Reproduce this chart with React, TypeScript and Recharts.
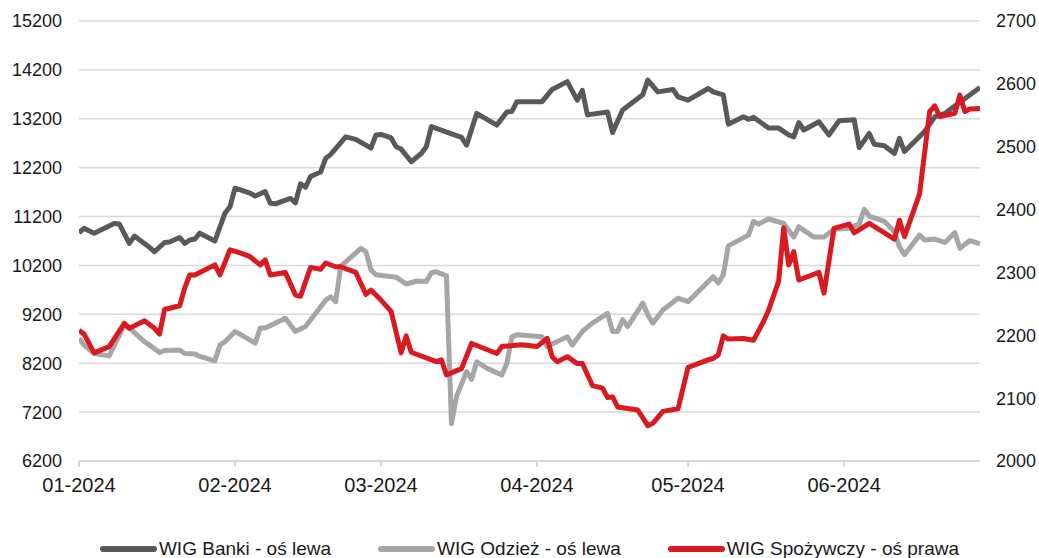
import React from 'react';
import { LineChart, Line, XAxis, YAxis, CartesianGrid } from 'recharts';

// days counted from 2024-01-01
const monthStartDays = [0, 31, 60, 91, 121, 152];
const monthLabels = ['01-2024', '02-2024', '03-2024', '04-2024', '05-2024', '06-2024'];

const leftTicks = [6200, 7200, 8200, 9200, 10200, 11200, 12200, 13200, 14200, 15200];
const rightTicks = [2000, 2100, 2200, 2300, 2400, 2500, 2600, 2700];

const bankiDays = [0, 1, 3, 7, 8, 10, 11, 14, 15, 17, 18, 20, 21, 22, 23, 24, 27, 29, 30, 31, 34, 35, 37, 38, 39, 42, 43, 44, 45, 46, 48, 49, 50, 53, 55, 58, 59, 60, 62, 63, 64, 66, 68, 69, 70, 76, 77, 79, 83, 85, 86, 87, 92, 94, 97, 99, 100, 101, 105, 106, 108, 112, 113, 115, 118, 119, 121, 125, 126, 128, 129, 132, 133, 134, 137, 139, 141, 142, 143, 144, 147, 149, 151, 154, 155, 157, 158, 160, 162, 163, 164, 168, 170, 172, 174, 179];
const bankiValues = [10870, 10960, 10860, 11060, 11050, 10650, 10800, 10570, 10480, 10670, 10680, 10770, 10650, 10720, 10740, 10860, 10700, 11270, 11400, 11780, 11680, 11620, 11710, 11470, 11460, 11570, 11480, 11870, 11800, 12020, 12110, 12390, 12470, 12830, 12780, 12600, 12870, 12880, 12810, 12630, 12580, 12320, 12490, 12630, 13040, 12820, 12660, 13310, 13070, 13340, 13350, 13550, 13550, 13800, 13960, 13580, 13780, 13280, 13340, 12920, 13380, 13690, 13990, 13750, 13800, 13650, 13580, 13820, 13750, 13690, 13090, 13240, 13190, 13230, 13010, 13010, 12870, 12830, 13120, 12970, 13140, 12870, 13160, 13180, 12610, 12900, 12680, 12650, 12490, 12800, 12530, 12940, 13240, 13310, 13460, 13840];

const odziezDays = [0, 1, 3, 6, 9, 10, 13, 14, 16, 17, 20, 21, 23, 24, 27, 28, 29, 31, 35, 36, 37, 41, 43, 45, 49, 50, 51, 52, 56, 57, 58, 59, 63, 65, 67, 69, 70, 71, 73, 74, 75, 77, 78, 79, 81, 84, 85, 86, 87, 92, 93, 97, 98, 100, 102, 105, 106, 107, 108, 109, 112, 113, 114, 116, 119, 121, 126, 127, 128, 129, 133, 134, 135, 137, 140, 142, 143, 146, 148, 150, 153, 155, 156, 157, 160, 162, 163, 164, 167, 168, 170, 172, 174, 175, 177, 179];
const odziezValues = [8710, 8570, 8400, 8350, 8980, 8920, 8640, 8570, 8420, 8460, 8470, 8400, 8390, 8340, 8250, 8570, 8640, 8850, 8610, 8920, 8920, 9120, 8850, 8950, 9490, 9560, 9460, 10180, 10550, 10480, 10110, 10010, 9960, 9820, 9880, 9870, 10050, 10070, 9990, 6960, 7520, 8030, 7870, 8230, 8100, 7960, 8200, 8740, 8780, 8740, 8540, 8740, 8570, 8850, 9020, 9220, 8850, 8850, 9090, 8950, 9430, 9190, 9020, 9290, 9530, 9460, 9970, 9840, 10010, 10600, 10820, 11100, 11050, 11150, 11060, 10780, 10990, 10780, 10780, 10940, 10960, 11050, 11350, 11210, 11100, 10890, 10580, 10420, 10820, 10720, 10740, 10670, 10870, 10550, 10710, 10640];

const spozywczyDays = [0, 1, 3, 6, 9, 10, 13, 15, 16, 17, 20, 21, 22, 23, 25, 27, 28, 30, 32, 34, 36, 37, 38, 41, 43, 44, 46, 48, 49, 51, 52, 55, 57, 58, 60, 62, 64, 65, 66, 71, 72, 73, 76, 78, 83, 84, 88, 91, 93, 94, 95, 97, 99, 100, 102, 104, 105, 106, 107, 111, 112, 113, 114, 116, 119, 121, 125, 126, 127, 128, 129, 132, 134, 136, 137, 139, 140, 141, 142, 143, 147, 148, 150, 153, 154, 157, 162, 163, 164, 167, 169, 170, 171, 174, 175, 176, 177, 179];
const spozywczyValues = [2208, 2202, 2172, 2182, 2219, 2211, 2223, 2211, 2202, 2241, 2247, 2275, 2296, 2296, 2304, 2312, 2296, 2336, 2331, 2325, 2312, 2320, 2296, 2300, 2264, 2262, 2308, 2305, 2315, 2309, 2309, 2300, 2265, 2272, 2256, 2238, 2172, 2199, 2173, 2158, 2161, 2137, 2147, 2187, 2171, 2182, 2185, 2182, 2195, 2166, 2158, 2166, 2155, 2155, 2120, 2116, 2101, 2102, 2086, 2081, 2069, 2056, 2060, 2079, 2083, 2149, 2161, 2163, 2169, 2199, 2194, 2195, 2192, 2222, 2240, 2286, 2371, 2312, 2333, 2288, 2300, 2267, 2370, 2377, 2363, 2378, 2353, 2383, 2357, 2425, 2556, 2565, 2548, 2553, 2582, 2556, 2560, 2561];

const toRows = (days: number[], values: number[]) => days.map((day, i) => ({ day, value: values[i] }));

const banki = toRows(bankiDays, bankiValues);
const odziez = toRows(odziezDays, odziezValues);
const spozywczy = toRows(spozywczyDays, spozywczyValues);

const FONT = '"Liberation Sans", Arial, sans-serif';
const GRID = '#d9d9d9';

const legendItems = [
  { label: 'WIG Banki - oś lewa', color: '#595959' },
  { label: 'WIG Odzież - oś lewa', color: '#a6a6a6' },
  { label: 'WIG Spożywczy - oś prawa', color: '#da1a21' },
];

const App: React.FC = () => {
  return (
    <div style={{ position: 'absolute', left: 0, top: 0, width: 1039, height: 558, background: '#fff', fontFamily: FONT }}>
      <LineChart width={1039} height={558} margin={{ top: 21, right: 0, left: 0, bottom: 57 }}>
        <CartesianGrid yAxisId="left" vertical={false} stroke={GRID} strokeWidth={1.5} />
        <XAxis
          type="number"
          dataKey="day"
          domain={[0, 179]}
          ticks={monthStartDays}
          tickFormatter={(v: number) => monthLabels[monthStartDays.indexOf(v)] ?? ''}
          allowDataOverflow
          height={40}
          stroke={GRID}
          strokeWidth={2}
          tickSize={6}
          tickMargin={11}
          tick={{ fill: '#1a1a1a', fontSize: 20, fontFamily: FONT }}
        />
        <YAxis
          yAxisId="left"
          domain={[6200, 15200]}
          ticks={leftTicks}
          width={79}
          axisLine={false}
          tickLine={false}
          tickSize={6}
          tickMargin={11}
          tick={{ fill: '#1a1a1a', fontSize: 18, fontFamily: FONT }}
        />
        <YAxis
          yAxisId="right"
          orientation="right"
          domain={[2000, 2700]}
          ticks={rightTicks}
          width={59}
          axisLine={false}
          tickLine={false}
          tickSize={6}
          tickMargin={10}
          tick={{ fill: '#1a1a1a', fontSize: 18, fontFamily: FONT, textAnchor: 'start' }}
        />
        <Line yAxisId="left" data={odziez} dataKey="value" type="linear" stroke="#a6a6a6" strokeWidth={5} strokeLinejoin="round" dot={false} isAnimationActive={false} />
        <Line yAxisId="left" data={banki} dataKey="value" type="linear" stroke="#595959" strokeWidth={5} strokeLinejoin="round" dot={false} isAnimationActive={false} />
        <Line yAxisId="right" data={spozywczy} dataKey="value" type="linear" stroke="#da1a21" strokeWidth={5} strokeLinejoin="round" dot={false} isAnimationActive={false} />
      </LineChart>
      <div
        style={{
          position: 'absolute',
          left: 79,
          width: 901,
          top: 537,
          height: 24,
          display: 'flex',
          alignItems: 'center',
          justifyContent: 'center',
          gap: 47,
          fontSize: 19,
          color: '#1a1a1a',
        }}
      >
        {legendItems.map((item) => (
          <div key={item.label} style={{ display: 'flex', alignItems: 'center' }}>
            <span style={{ display: 'inline-block', width: 57, height: 6, borderRadius: 3, background: item.color, marginRight: 2 }} />
            <span>{item.label}</span>
          </div>
        ))}
      </div>
    </div>
  );
};

export default App;
